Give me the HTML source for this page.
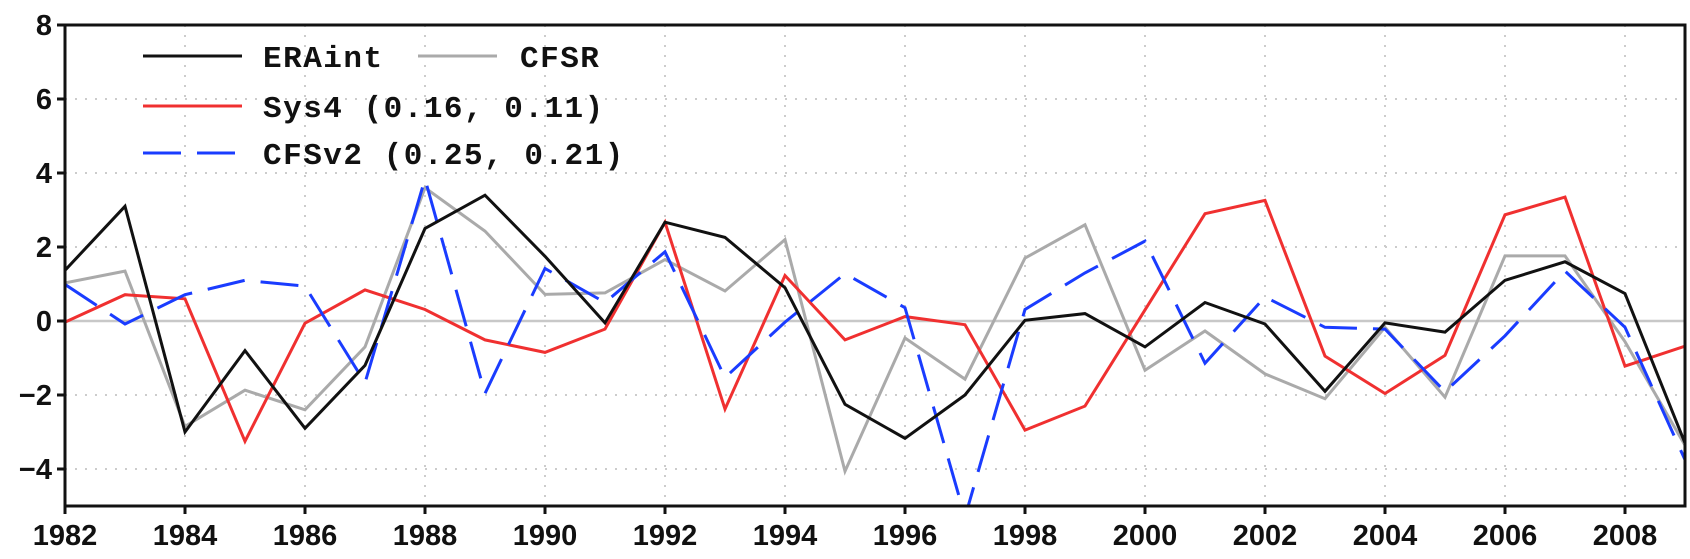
<!DOCTYPE html>
<html><head><meta charset="utf-8">
<style>
html,body{margin:0;padding:0;background:#fff;}
svg{display:block;}
text{font-family:"Liberation Sans",sans-serif;}
</style></head>
<body>
<svg id="chart" width="1690" height="559" viewBox="0 0 1690 559" xmlns="http://www.w3.org/2000/svg">
<defs><clipPath id="plotclip"><rect x="65" y="25" width="1620" height="481"/></clipPath></defs>
<g id="grid"></g>
<g id="series" clip-path="url(#plotclip)"></g>
<rect x="65" y="25" width="1620" height="481" fill="none" stroke="#111" stroke-width="3"/>
<g id="axes"></g>
<g>
  <line x1="143" y1="56" x2="242" y2="56" stroke="#111" stroke-width="3"/>
  <text x="263" y="67" font-size="31" font-weight="bold" letter-spacing="1.5" fill="#111" style="font-family:'Liberation Mono',monospace">ERAint</text>
  <line x1="418" y1="56" x2="497" y2="56" stroke="#aaa" stroke-width="3"/>
  <text x="520" y="67" font-size="31" font-weight="bold" letter-spacing="1.5" fill="#111" style="font-family:'Liberation Mono',monospace">CFSR</text>
  <line x1="143" y1="106" x2="242" y2="106" stroke="#f03030" stroke-width="3"/>
  <text x="263" y="117" font-size="31" font-weight="bold" letter-spacing="1.5" fill="#111" style="font-family:'Liberation Mono',monospace">Sys4 (0.16, 0.11)</text>
  <line x1="143" y1="153" x2="242" y2="153" stroke="#1a3cff" stroke-width="3" stroke-dasharray="38,16"/>
  <text x="263" y="164" font-size="31" font-weight="bold" letter-spacing="1.5" fill="#111" style="font-family:'Liberation Mono',monospace">CFSv2 (0.25, 0.21)</text>
</g>
</svg>
<script>
const years = [1982,1983,1984,1985,1986,1987,1988,1989,1990,1991,1992,1993,1994,1995,1996,1997,1998,1999,2000,2001,2002,2003,2004,2005,2006,2007,2008,2009];
const eraint = [1.37,3.1,-3.0,-0.8,-2.9,-1.2,2.5,3.4,1.75,-0.05,2.67,2.26,0.9,-2.25,-3.17,-2.0,0.02,0.2,-0.7,0.5,-0.08,-1.9,-0.05,-0.3,1.1,1.6,0.74,-3.3];
const cfsr = [1.03,1.35,-2.85,-1.87,-2.4,-0.7,3.6,2.43,0.72,0.76,1.66,0.81,2.2,-4.06,-0.46,-1.57,1.7,2.6,-1.33,-0.27,-1.43,-2.1,-0.17,-2.06,1.76,1.76,-0.56,-3.36];
const sys4 = [-0.03,0.71,0.6,-3.25,-0.06,0.84,0.31,-0.51,-0.85,-0.22,2.67,-2.38,1.23,-0.51,0.12,-0.1,-2.95,-2.3,0.3,2.9,3.26,-0.95,-1.96,-0.93,2.87,3.35,-1.22,-0.68];
const cfsv2 = [0.99,-0.08,0.71,1.1,0.94,-1.67,3.84,-1.96,1.42,0.5,1.87,-1.53,-0.03,1.28,0.36,-5.3,0.31,1.3,2.16,-1.14,0.65,-0.17,-0.22,-1.91,-0.4,1.35,-0.17,-3.75];
const yTicks = [-4,-2,0,2,4,6,8];
const xTicks = [1982,1984,1986,1988,1990,1992,1994,1996,1998,2000,2002,2004,2006,2008];

const NS='http://www.w3.org/2000/svg';
const X0=65,X1=1685,Y0=25,Y1=506;
const xs = y => X0 + (y-1982)/(2009-1982)*(X1-X0);
const ys = v => Y1 - (v+5)/13*(Y1-Y0);
function mk(tag, attrs, parent){const e=document.createElementNS(NS,tag);for(const k in attrs)e.setAttribute(k,attrs[k]);parent.appendChild(e);return e;}
const grid=document.getElementById('grid'), axes=document.getElementById('axes'), ser=document.getElementById('series');

yTicks.forEach(v=>{
  if(v===0){
    const l=mk('line',{x1:X0,x2:X1,y1:ys(v),y2:ys(v),stroke:'#c8c8c8','stroke-width':2.5},grid);
    
    
  } else if(v<8){
    const l=mk('line',{x1:X0,x2:X1,y1:ys(v),y2:ys(v),stroke:'#ccc','stroke-width':2,'stroke-dasharray':'2,8'},grid);
    
    
  }
  const t=mk('line',{x1:X0-8,x2:X0,y1:ys(v),y2:ys(v),stroke:'#111','stroke-width':3},axes);
  
  
  const tx=mk('text',{x:52,y:ys(v)+10,'text-anchor':'end','font-size':29,'font-weight':'bold',fill:'#111'},axes);
  tx.textContent = v<0 ? '\u2212'+Math.abs(v) : String(v);
  
  
});
xTicks.forEach(y=>{
  if(y>1982){
    const l=mk('line',{x1:xs(y),x2:xs(y),y1:Y0,y2:Y1,stroke:'#ccc','stroke-width':2,'stroke-dasharray':'2,8'},grid);
    
    
  }
  const t=mk('line',{x1:xs(y),x2:xs(y),y1:Y1,y2:Y1+8,stroke:'#111','stroke-width':3},axes);
  
  
  const tx=mk('text',{x:xs(y),y:545,'text-anchor':'middle','font-size':29,'font-weight':'bold',fill:'#111'},axes);
  tx.textContent=String(y);
  
  
});
function line(vals,color,dash,name){
  const d=vals.map((v,i)=>(i?'L':'M')+xs(years[i]).toFixed(1)+','+ys(v).toFixed(1)).join(' ');
  const p=mk('path',{d:d,fill:'none',stroke:color,'stroke-width':3,'stroke-linejoin':'miter'},ser);
  if(dash)p.setAttribute('stroke-dasharray',dash);
  
  
}
line(cfsr,'#aaa',null,'cfsr-line');
line(sys4,'#f03030',null,'sys4-line');
line(cfsv2,'#1a3cff','38,16','cfsv2-line');
line(eraint,'#111',null,'eraint-line');
</script>
</body></html>
